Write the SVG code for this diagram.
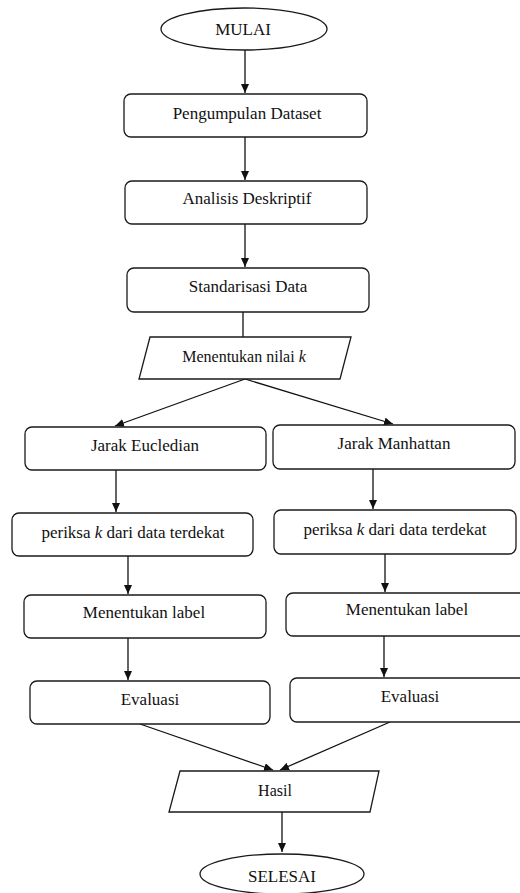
<svg xmlns="http://www.w3.org/2000/svg" width="520" height="893" viewBox="0 0 520 893">
<defs>
<style>
.box{fill:#fff;stroke:#1a1a1a;stroke-width:1.3}
.t{font-family:"Liberation Serif","Times New Roman",serif;font-size:17px;fill:#111;text-anchor:middle}
.s{font-size:16px}
.c{fill:none;stroke:#111;stroke-width:1.3}
</style>
<marker id="ah" markerWidth="10" markerHeight="8" refX="9" refY="4" orient="auto" markerUnits="userSpaceOnUse">
<path d="M0,0 L9,4 L0,8 Z" fill="#111"/>
</marker>
</defs>
<rect width="520" height="893" fill="#fff"/>
<g id="connectors">
<line class="c" x1="245" y1="50" x2="245" y2="93" marker-end="url(#ah)"/>
<line class="c" x1="245" y1="137" x2="245" y2="180" marker-end="url(#ah)"/>
<line class="c" x1="245" y1="224" x2="245" y2="267" marker-end="url(#ah)"/>
<line class="c" x1="243" y1="312" x2="243" y2="337"/>
<line class="c" x1="245" y1="379" x2="115" y2="426" marker-end="url(#ah)"/>
<line class="c" x1="245" y1="379" x2="393" y2="424" marker-end="url(#ah)"/>
<line class="c" x1="116" y1="470" x2="116" y2="512" marker-end="url(#ah)"/>
<line class="c" x1="373" y1="469" x2="373" y2="509" marker-end="url(#ah)"/>
<line class="c" x1="128" y1="556" x2="128" y2="594" marker-end="url(#ah)"/>
<line class="c" x1="385" y1="554" x2="385" y2="592" marker-end="url(#ah)"/>
<line class="c" x1="128" y1="638" x2="128" y2="680" marker-end="url(#ah)"/>
<line class="c" x1="384" y1="636" x2="384" y2="677" marker-end="url(#ah)"/>
<line class="c" x1="140" y1="724" x2="273" y2="770" marker-end="url(#ah)"/>
<line class="c" x1="390" y1="722" x2="280" y2="770" marker-end="url(#ah)"/>
<line class="c" x1="282" y1="812" x2="282" y2="852" marker-end="url(#ah)"/>
</g>
<g id="mulai">
<ellipse class="box" cx="244" cy="29" rx="83" ry="21"/>
<text class="t" x="243" y="35">MULAI</text>
</g>
<g id="pengumpulan">
<rect class="box" x="124" y="94" width="243" height="43" rx="7"/>
<text class="t" x="247" y="119">Pengumpulan Dataset</text>
</g>
<g id="analisis">
<rect class="box" x="125" y="181" width="242" height="43" rx="7"/>
<text class="t" x="247" y="204">Analisis Deskriptif</text>
</g>
<g id="standarisasi">
<rect class="box" x="127" y="268" width="242" height="44" rx="7"/>
<text class="t" x="248" y="292">Standarisasi Data</text>
</g>
<g id="nilai-k">
<polygon class="box" points="150,337 351,337 340,379 139,379"/>
<text class="t s" x="244" y="362">Menentukan nilai <tspan font-style="italic">k</tspan></text>
</g>
<g id="jarak-eucledian">
<rect class="box" x="25" y="427" width="241" height="43" rx="7"/>
<text class="t" x="145" y="451">Jarak Eucledian</text>
</g>
<g id="jarak-manhattan">
<rect class="box" x="273" y="425" width="242" height="44" rx="7"/>
<text class="t" x="394" y="449">Jarak Manhattan</text>
</g>
<g id="periksa-left">
<rect class="box" x="12" y="513" width="241" height="43" rx="7"/>
<text class="t" x="133" y="538">periksa <tspan font-style="italic">k</tspan> dari data terdekat</text>
</g>
<g id="periksa-right">
<rect class="box" x="274" y="510" width="242" height="44" rx="7"/>
<text class="t" x="395" y="535">periksa <tspan font-style="italic">k</tspan> dari data terdekat</text>
</g>
<g id="label-left">
<rect class="box" x="24" y="595" width="242" height="43" rx="7"/>
<text class="t" x="144" y="618">Menentukan label</text>
</g>
<g id="label-right">
<rect class="box" x="286" y="593" width="250" height="43" rx="7"/>
<text class="t" x="407" y="615">Menentukan label</text>
</g>
<g id="evaluasi-left">
<rect class="box" x="30" y="681" width="240" height="43" rx="7"/>
<text class="t" x="150" y="705">Evaluasi</text>
</g>
<g id="evaluasi-right">
<rect class="box" x="290" y="678" width="245" height="44" rx="7"/>
<text class="t" x="410" y="702">Evaluasi</text>
</g>
<g id="hasil">
<polygon class="box" points="180,771 379,771 370,812 169,812"/>
<text class="t s" x="275" y="796">Hasil</text>
</g>
<g id="selesai">
<ellipse class="box" cx="282" cy="874" rx="82" ry="20"/>
<text class="t" x="282" y="882">SELESAI</text>
</g>
</svg>
